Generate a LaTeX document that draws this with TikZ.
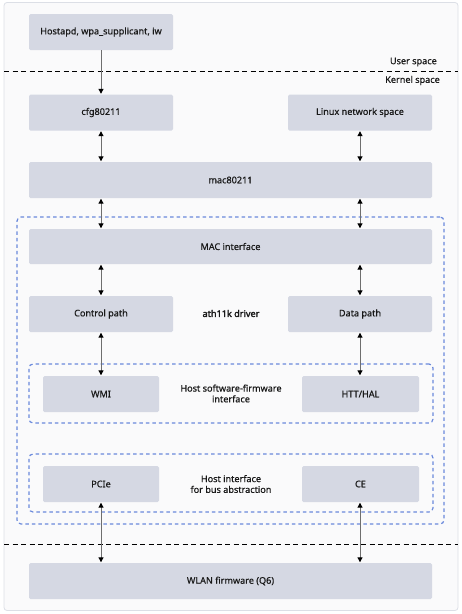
\documentclass[tikz,border=0pt]{standalone}
\usepackage{fontspec}
\setmainfont{Noto Sans}[FakeBold=0.6]
\newfontfamily\athfont{Noto Sans}[FakeBold=2.2]
\usetikzlibrary{arrows.meta}
\definecolor{boxc}{HTML}{D5D8E3}
\definecolor{bgc}{HTML}{FAFAFB}
\definecolor{framec}{HTML}{DCDFE6}
\definecolor{grpc}{HTML}{6A89DC}
\definecolor{shaft}{HTML}{6E6E6E}
\newcommand{\fsz}{\fontsize{9.1}{10.8}\selectfont}
\tikzset{
  box/.style={fill=boxc, rounded corners=1.5pt, inner sep=0pt, font=\fsz\bfseries, text=black!90},
  grp/.style={draw=grpc, dash pattern=on 3.5pt off 3pt, line width=1.2pt, rounded corners=4pt, inner sep=0pt},
  lbl/.style={font=\fsz\bfseries, align=center, inner sep=0pt, text=black!90},
  sep/.style={draw=black, line width=1pt, dash pattern=on 5pt off 3.5pt},
  con/.style={draw=shaft, line width=1pt, {Triangle[length=5pt,width=5pt,color=black]}-{Triangle[length=5pt,width=5pt,color=black]}, shorten <=0.5pt, shorten >=0.5pt},
  con1/.style={draw=shaft, line width=1pt, -{Triangle[length=5pt,width=5pt,color=black]}, shorten >=0.5pt},
}
\begin{document}
\begin{tikzpicture}[x=1pt,y=-1pt]
\useasboundingbox (0,0) rectangle (462,614);
\draw[fill=bgc, draw=framec, line width=0.8pt, rounded corners=3pt] (4,2.5) rectangle (458,610.5);
% groups
\node[grp, minimum width=427pt, minimum height=307pt] (drv) at (230.5,370.5) {};
\node[grp, minimum width=404pt, minimum height=59pt] (hsf) at (231,393.5) {};
\node[grp, minimum width=404pt, minimum height=58pt] (hib) at (231,483) {};
% separators
\coordinate (u1) at (4,71); \coordinate (u2) at (458,71);
\coordinate (k1) at (4,544); \coordinate (k2) at (458,544);
\draw[sep] (u1) -- (u2);
\draw[sep] (k1) -- (k2);
\node[lbl, anchor=east] (us) at (437,62) {User space};
\node[lbl, anchor=east] (ks) at (440,80.5) {Kernel space};
% boxes
\node[box, minimum width=144pt, minimum height=36pt] (host) at (101,32) {Hostapd, wpa\_supplicant, iw};
\node[box, minimum width=144pt, minimum height=36pt] (cfg) at (101,112.5) {cfg80211};
\node[box, minimum width=144pt, minimum height=36pt] (lns) at (360,112.5) {Linux network space};
\node[box, minimum width=403pt, minimum height=36pt] (mac) at (230.5,180) {mac80211};
\node[box, minimum width=403pt, minimum height=35pt] (mif) at (230.5,246.5) {MAC interface};
\node[box, minimum width=144pt, minimum height=36pt] (ctl) at (101,314) {Control path};
\node[box, minimum width=144pt, minimum height=36pt] (dat) at (360,314) {Data path};
\node[lbl, font=\fsz\athfont] (ath) at (231,313.5) {ath11k driver};
\node[box, minimum width=116pt, minimum height=36pt] (wmi) at (101,394) {WMI};
\node[box, minimum width=117pt, minimum height=36pt] (htt) at (360.5,394) {HTT/HAL};
\node[lbl] (hsft) at (231,393.5) {Host software-firmware\\interface};
\node[box, minimum width=116pt, minimum height=36pt] (pcie) at (101,484) {PCIe};
\node[box, minimum width=117pt, minimum height=36pt] (ce) at (360.5,484) {CE};
\node[lbl] (hibt) at (231,484) {Host interface\\for bus abstraction};
\node[box, minimum width=403pt, minimum height=36pt] (wlan) at (230.5,581) {WLAN firmware (Q6)};
% connectors
\draw[con1] (host.south) -- (cfg.north);
\draw[con] (cfg.south) -- (mac.north -| cfg.south);
\draw[con] (lns.south) -- (mac.north -| lns.south);
\draw[con] (mac.south -| cfg.south) -- (mif.north -| cfg.south);
\draw[con] (mac.south -| lns.south) -- (mif.north -| lns.south);
\draw[con] (mif.south -| ctl.north) -- (ctl.north);
\draw[con] (mif.south -| dat.north) -- (dat.north);
\draw[con] (ctl.south) -- (wmi.north -| ctl.south);
\draw[con] (dat.south) -- (htt.north -| dat.south);
\draw[con] (pcie.south) -- (wlan.north -| pcie.south);
\draw[con] (ce.south -| dat.south) -- (wlan.north -| dat.south);
\end{tikzpicture}
\end{document}
